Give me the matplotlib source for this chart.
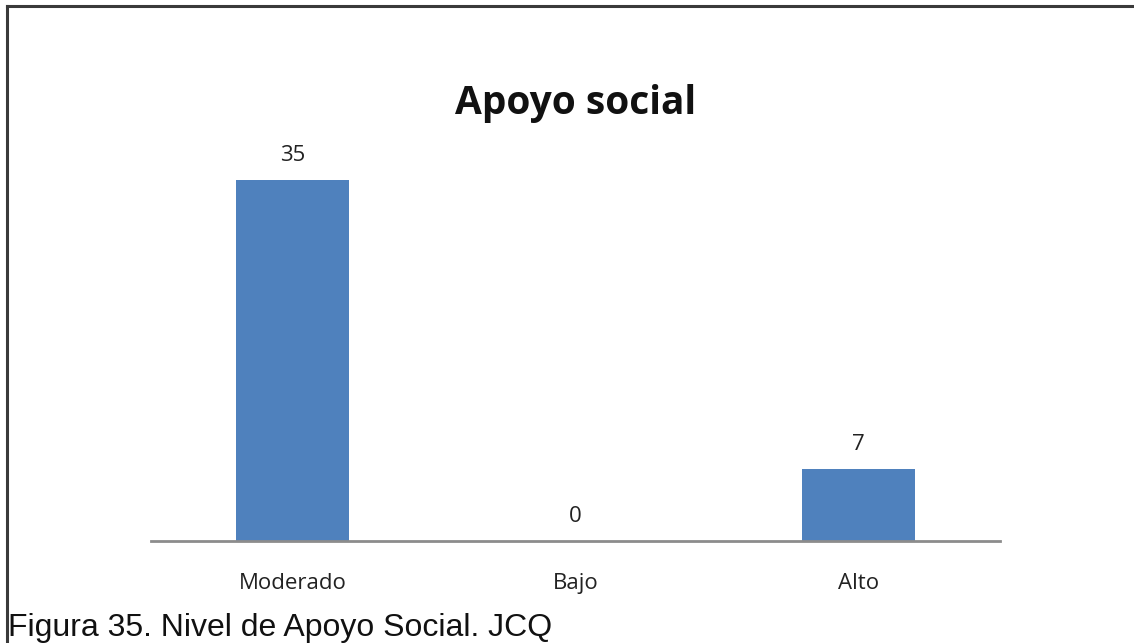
import matplotlib
matplotlib.use("Agg")
import matplotlib.pyplot as plt
from matplotlib.lines import Line2D

categories = ["Moderado", "Bajo", "Alto"]
values = [35, 0, 7]
title = "Apoyo social"
caption = "Figura 35. Nivel de Apoyo Social. JCQ"

W, H = 1134, 643
fig = plt.figure(figsize=(W / 100, H / 100), dpi=100)
fig.patch.set_facecolor("white")

# plot area in pixel coordinates
x0, x1 = 151, 1000
y_base, y_top = 541, 128.5
ax = fig.add_axes([x0 / W, (H - y_base) / H, (x1 - x0) / W, (y_base - y_top) / H])

pos = range(len(categories))
bars = ax.bar(pos, values, width=0.4, color="#4F81BD")
ax.set_xlim(-0.5, len(categories) - 0.5)
ax.set_ylim(0, 40)

chart_font = "Open Sans"
for b, v in zip(bars, values):
    ax.annotate(str(v), (b.get_x() + b.get_width() / 2, v), xytext=(0, 13.5),
                textcoords="offset points", ha="center", va="baseline",
                fontsize=16, family=chart_font, color="#222222")

ax.set_xticks(list(pos))
ax.set_xticklabels(categories, family=chart_font, fontsize=16, color="#222222")
ax.tick_params(axis="x", length=0, pad=23)
ax.set_yticks([])
for s in ["top", "right", "left"]:
    ax.spines[s].set_visible(False)
ax.spines["bottom"].set_color("#8C8C8C")
ax.spines["bottom"].set_linewidth(2)
ax.patch.set_alpha(0)

fig.text(576 / W, 1 - 114 / H, title, ha="center", va="baseline",
         fontsize=28, fontweight="bold", family=chart_font, color="#111111")

fig.text(8 / W, 1 - 636 / H, caption, ha="left", va="baseline",
         fontsize=23, family="Liberation Sans", color="#111111")

# frame around the chart object
fig.add_artist(Line2D([7 / W, 1.0], [1 - 6 / H, 1 - 6 / H], color="#3A3A3A", lw=2.2,
                      transform=fig.transFigure))
fig.add_artist(Line2D([7 / W, 7 / W], [1 - 6 / H, 0], color="#3A3A3A", lw=2.2,
                      transform=fig.transFigure))

fig.savefig("out.png", dpi=100)
